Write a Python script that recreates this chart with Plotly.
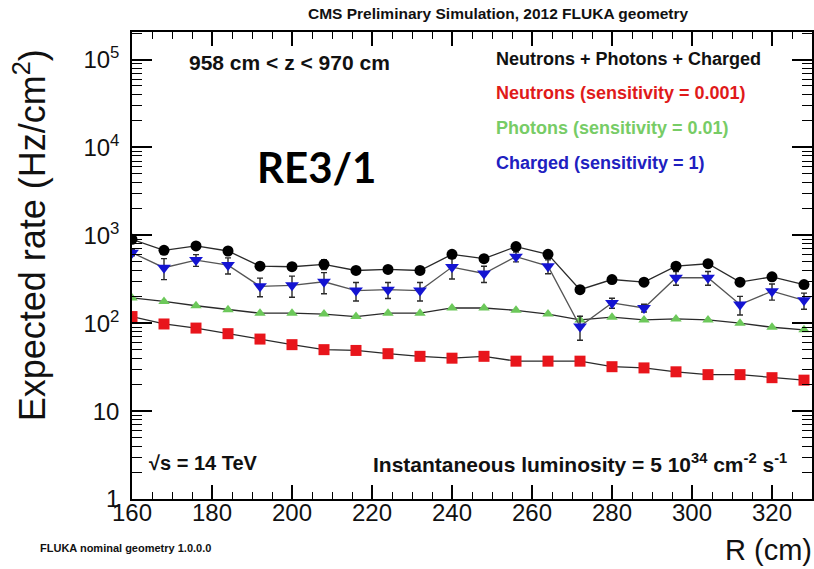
import plotly.graph_objects as go

# ---- data ----
R_cm = [160, 168, 176, 184, 192, 200, 208, 216, 224, 232, 240,
        248, 256, 264, 272, 280, 288, 296, 304, 312, 320, 328]

total = [900, 675, 756, 663, 446, 439, 467, 398, 409, 398, 607,
         542, 744, 607, 241, 314, 293, 446, 475, 293, 337, 275]
total_err = [40, 30, 35, 30, 25, 25, 60, 20, 20, 20, 35,
             30, 40, 30, 12, 15, 15, 35, 40, 15, 20, 15]

charged = [635, 428, 523, 458, 263, 270, 296, 235, 241, 235, 435,
           368, 572, 446, 92, 170, 149, 329, 329, 163, 231, 182]
charged_err = [50, 115, 80, 95, 63, 73, 80, 56, 50, 56, 117,
               77, 74, 80, 28, 22, 15, 59, 59, 39, 48, 38]

photons = [194, 177, 158, 142, 130, 130, 127, 119, 130, 130, 149,
           149, 140, 127, 109, 117, 109, 112, 109, 100, 90, 84]

neutrons = [119, 98, 88, 76, 66, 57, 50, 49, 45, 42, 40,
            42, 37, 37, 37, 32, 31, 28, 26, 26, 24, 22.5]

y_tickvals = [1, 10, 100, 1000, 10000, 100000]
y_ticktext = ["1", "10", "10<sup>2</sup>", "10<sup>3</sup>", "10<sup>4</sup>", "10<sup>5</sup>"]
x_tickvals = [160, 180, 200, 220, 240, 260, 280, 300, 320]
y_minor_vals = [m * 10 ** d for d in range(0, 6) for m in range(2, 10)]

# ---- geometry of the plot area (pixels) ----
W, H = 814, 569
L, T, Rgt, B = 132, 32, 814, 499
Y_RANGE = [0, 5.313]


def px(p):
    return (p - L) / (Rgt - L)


def py(q):
    return (B - q) / (B - T)


ARIAL = "Arial, Liberation Sans, sans-serif"
LINE = "#2a2a2a"

fig = go.Figure()

# empty trace that only carries the minor-tick axis
fig.add_trace(go.Scatter(x=[], y=[], yaxis="y2", showlegend=False, hoverinfo="skip"))

fig.add_trace(go.Scatter(
    x=R_cm, y=neutrons, mode="lines+markers",
    line=dict(color=LINE, width=1.3),
    marker=dict(symbol="square", size=11, color="#e8151b", line=dict(width=0)),
    showlegend=False))

fig.add_trace(go.Scatter(
    x=R_cm, y=photons, mode="lines+markers",
    line=dict(color=LINE, width=1.3),
    marker=dict(symbol="triangle-up", size=10, color="#6cc85a", line=dict(width=0)),
    showlegend=False))

fig.add_trace(go.Scatter(
    x=R_cm, y=charged, mode="lines+markers",
    line=dict(color="#555555", width=1.3),
    error_y=dict(type="data", array=charged_err, color=LINE, thickness=1.4, width=3),
    marker=dict(symbol="triangle-down", size=12, color="#1414d2", line=dict(width=0)),
    showlegend=False))

fig.add_trace(go.Scatter(
    x=R_cm, y=total, mode="lines+markers",
    line=dict(color=LINE, width=1.3),
    error_y=dict(type="data", array=total_err, color=LINE, thickness=1.4, width=3),
    marker=dict(symbol="circle", size=11, color="#000000", line=dict(width=0)),
    showlegend=False))

fig.update_layout(
    xaxis=dict(
        range=[160, 330], tickvals=x_tickvals,
        ticks="inside", ticklen=14, tickwidth=1.5, tickcolor="black",
        minor=dict(dtick=5, tick0=160, ticks="inside", ticklen=7, tickwidth=1.2, tickcolor="black"),
        showline=True, linecolor="black", linewidth=1.5, mirror="ticks",
        showgrid=False, zeroline=False, ticklabelstandoff=-9,
        tickfont=dict(family=ARIAL, size=24, color="#111")),
    yaxis=dict(
        type="log", range=Y_RANGE, tickvals=y_tickvals, ticktext=y_ticktext,
        ticks="inside", ticklen=20, tickwidth=1.5, tickcolor="black",
        showline=True, linecolor="black", linewidth=1.5, mirror="ticks",
        showgrid=False, zeroline=False, ticklabelstandoff=6,
        tickfont=dict(family=ARIAL, size=24, color="#111")),
    yaxis2=dict(
        type="log", range=Y_RANGE, overlaying="y", side="left",
        tickvals=y_minor_vals, showticklabels=False,
        ticks="inside", ticklen=10, tickwidth=1.2, tickcolor="black",
        showline=True, linecolor="black", linewidth=1.5, mirror="ticks",
        showgrid=False, zeroline=False),
)


def note(text, x, y, size, color="#111", bold=False, family=ARIAL, xanchor="left", angle=0):
    if bold:
        text = "<b>" + text + "</b>"
    fig.add_annotation(text=text, x=px(x), y=py(y), xref="paper", yref="paper",
                       xanchor=xanchor, yanchor="middle", showarrow=False,
                       textangle=angle, font=dict(family=family, size=size, color=color))


note("CMS Preliminary Simulation, 2012 FLUKA geometry", 500, 14, 15.5, bold=True, xanchor="center")
note("958 cm &lt; z &lt; 970 cm", 187, 63, 21, bold=True)
note("RE3/1", 255, 167, 42, color="#000", bold=True, family="Lato, Open Sans, sans-serif")
note("Neutrons + Photons + Charged", 495, 59, 18, bold=True)
note("Neutrons (sensitivity = 0.001)", 495, 93, 18, color="#e01a1a", bold=True)
note("Photons (sensitivity = 0.01)", 495, 128, 18, color="#77cc66", bold=True)
note("Charged (sensitivity = 1)", 495, 163, 18, color="#2020c0", bold=True)
note("√s = 14 TeV", 147, 463, 20, bold=True)
note("Instantaneous luminosity = 5 10<sup>34</sup> cm<sup>-2</sup> s<sup>-1</sup>", 372, 463, 21, bold=True)
note("FLUKA nominal geometry 1.0.0.0", 38, 548, 11, bold=True)
note("R (cm)", 816, 550, 29, xanchor="right")
note("Expected rate (Hz/cm<sup>2</sup>)", 30, 235, 36, xanchor="center", angle=-90)

fig.update_layout(
    width=W, height=H, autosize=False,
    margin=dict(l=L, r=W - Rgt, t=T, b=H - B, pad=0),
    plot_bgcolor="white", paper_bgcolor="white",
    showlegend=False)

fig.write_html("out.html", config={"displayModeBar": False},
               post_script="document.body.style.margin='0';")
